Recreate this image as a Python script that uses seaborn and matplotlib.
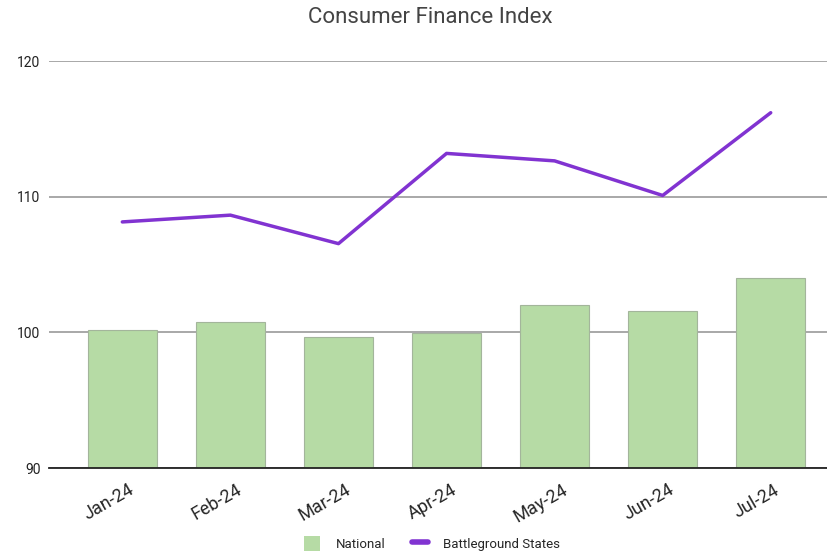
import pandas as pd
import matplotlib
matplotlib.use("Agg")
import matplotlib.pyplot as plt
import matplotlib.transforms as mtrans
import seaborn as sns
from matplotlib.patches import Patch
from matplotlib.lines import Line2D

months = ["Jan-24", "Feb-24", "Mar-24", "Apr-24", "May-24", "Jun-24", "Jul-24"]
national = [100.2, 100.8, 99.65, 99.95, 102.05, 101.55, 104.05]
battleground = [108.15, 108.65, 106.55, 113.2, 112.65, 110.1, 116.2]

df = pd.DataFrame({"Month": months, "National": national, "Battleground States": battleground})

sns.set_style("white")
plt.rcParams["font.family"] = ["Roboto", "DejaVu Sans"]

fig = plt.figure(figsize=(8.28, 5.56), dpi=100)
ax = fig.add_axes([0.059, 0.158, 0.941, 0.732])

bar_color = "#b6dba5"
line_color = "#8133d1"

sns.barplot(data=df, x="Month", y="National", color=bar_color, saturation=1, width=0.64,
            edgecolor="#a3b59b", linewidth=0.8, ax=ax, zorder=2)
sns.lineplot(x=range(len(months)), y=df["Battleground States"], color=line_color,
             linewidth=2.5, ax=ax, zorder=3)

ax.set_ylim(90, 120)
ax.set_xlim(-0.68, 6.53)
ax.set_yticks([90, 100, 110, 120])
ax.yaxis.grid(True, color="#999999", linewidth=1.2, zorder=0)
ax.set_axisbelow(True)
for s in ["top", "right", "left"]:
    ax.spines[s].set_visible(False)
ax.spines["bottom"].set_color("#222222")
ax.spines["bottom"].set_linewidth(1.3)
ax.set_xlabel("")
ax.set_ylabel("")
ax.tick_params(axis="y", length=0, labelsize=10, labelcolor="#222222", pad=6)
ax.tick_params(axis="x", length=5, color="#888888", labelsize=13, pad=4)
shift = mtrans.ScaledTranslation(-0.14, 0, fig.dpi_scale_trans)
for lbl in ax.get_xticklabels():
    lbl.set_rotation(30)
    lbl.set_horizontalalignment("center")
    lbl.set_transform(lbl.get_transform() + shift)

fig.suptitle("Consumer Finance Index", x=0.52, y=0.988, fontsize=16, color="#444444")

handles = [Patch(facecolor=bar_color, edgecolor="none"),
           Line2D([0], [0], color=line_color, linewidth=4)]
fig.legend(handles, ["National", "Battleground States"], loc="lower center",
           bbox_to_anchor=(0.522, -0.012), ncol=2, frameon=False, fontsize=9.5,
           handlelength=1.2, handleheight=1.4, columnspacing=2.0, handletextpad=1.2)

fig.savefig("out.png", dpi=100)
